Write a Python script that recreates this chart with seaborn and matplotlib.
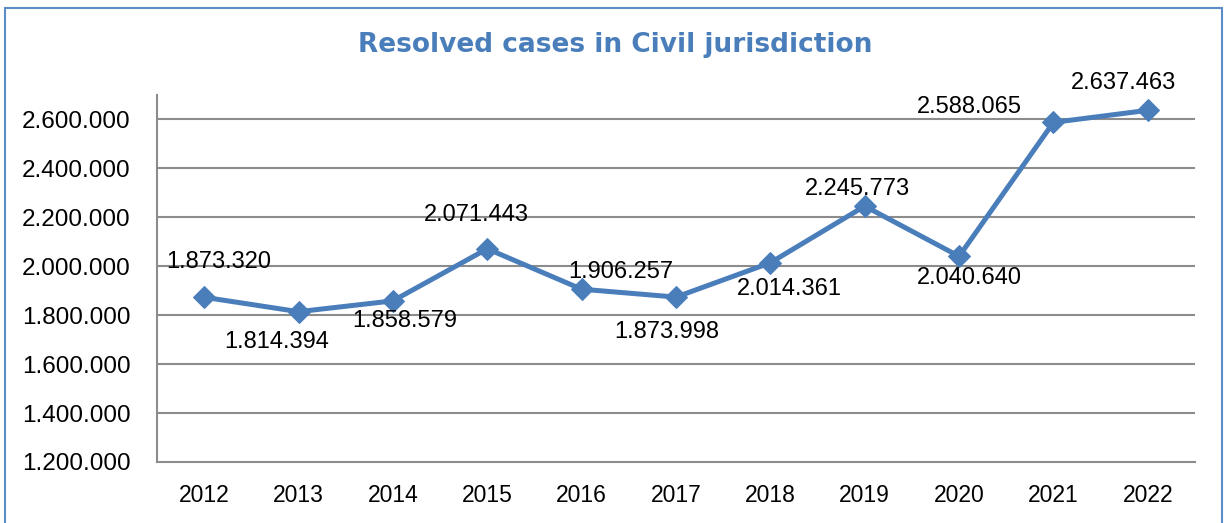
import matplotlib
matplotlib.use("Agg")
import matplotlib.pyplot as plt
import matplotlib.ticker as mticker
import seaborn as sns
import pandas as pd
from matplotlib.patches import Rectangle

years = [2012, 2013, 2014, 2015, 2016, 2017, 2018, 2019, 2020, 2021, 2022]
resolved = [1873320, 1814394, 1858579, 2071443, 1906257, 1873998,
            2014361, 2245773, 2040640, 2588065, 2637463]
y_ticks = [1200000, 1400000, 1600000, 1800000, 2000000, 2200000, 2400000, 2600000]
title = "Resolved cases in Civil jurisdiction"

# label placement relative to the point, in pixels (dx, dy up)
label_offsets = [(15, 35), (-22, -30), (12, -20), (-11, 34), (39, 17), (-9, -35),
                 (19, -26), (-7, 17), (10, -22), (-84, 15), (-24, 27)]

blue = "#4A7EBB"
grid_gray = "#8C8C8C"


def fmt(v):
    return f"{v:,.0f}".replace(",", ".")


df = pd.DataFrame({"year": years, "resolved": resolved})

sns.set_theme(style="white")
plt.rcParams["font.family"] = ["Liberation Sans", "DejaVu Sans"]

fig = plt.figure(figsize=(12.25, 5.23), dpi=100)
ax = fig.add_axes([157 / 1225, 1 - 462 / 523, (1195 - 157) / 1225, (462 - 95) / 523])

sns.lineplot(data=df, x="year", y="resolved", ax=ax, color=blue, linewidth=3.6,
             marker="D", markersize=11.5, markeredgecolor=blue, markerfacecolor=blue)

ax.set_xlim(2011.5, 2022.5)
ax.set_ylim(1200000, 2700000)
ax.set_xticks(years)
ax.set_yticks(y_ticks)
ax.yaxis.set_major_formatter(mticker.FuncFormatter(lambda v, p: fmt(v)))
ax.set_xlabel("")
ax.set_ylabel("")
ax.tick_params(axis="y", length=0, pad=19, labelsize=17.5, colors="black")
ax.tick_params(axis="x", length=0, pad=16, labelsize=16.5, colors="black")

for yv in y_ticks[1:]:
    ax.axhline(yv, color=grid_gray, linewidth=1.5, zorder=0)

for side in ["top", "right"]:
    ax.spines[side].set_visible(False)
ax.spines["left"].set_color(grid_gray)
ax.spines["left"].set_linewidth(1.5)
ax.spines["bottom"].set_color(grid_gray)
ax.spines["bottom"].set_linewidth(1.5)

for x, y, (dx, dy) in zip(years, resolved, label_offsets):
    ax.annotate(fmt(y), (x, y), xytext=(dx, dy), textcoords="offset pixels",
                ha="center", va="center", fontsize=17, color="black",
                annotation_clip=False)

fig.text(0.502, 1 - 45 / 523, title, ha="center", va="center", fontsize=19,
         fontweight="bold", color=blue, family=["DejaVu Sans"])

fig.patches.append(Rectangle((5 / 1225, -0.02), (1222 - 5) / 1225, 1 - 8 / 523 + 0.02,
                             transform=fig.transFigure, fill=False,
                             edgecolor="#5B8CC8", linewidth=1.5))

fig.savefig("out.png", dpi=100)
plt.close(fig)
